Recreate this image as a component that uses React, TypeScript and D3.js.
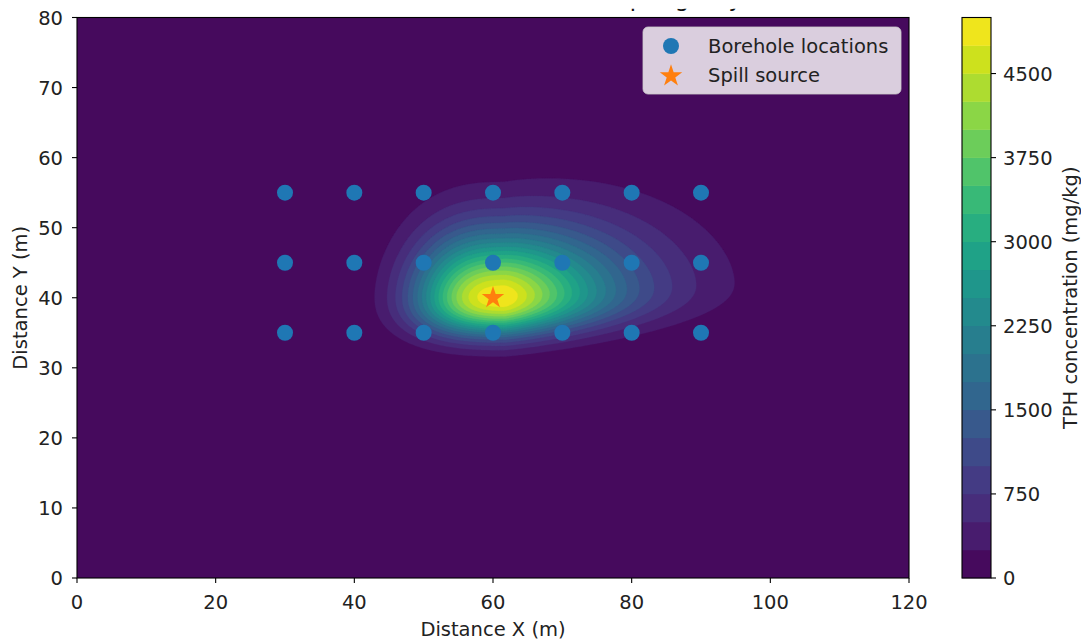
import React, { useMemo } from 'react';
import * as d3 from 'd3';

// ---- data ----
const boreholeX = [30, 40, 50, 60, 70, 80, 90];
const boreholeY = [35, 45, 55];
const spillSource = [60, 40];
const contourLevels = d3.range(0, 5001, 250); // 0..5000 step 250 (20 bands)
const colorbarTicks = [0, 750, 1500, 2250, 3000, 3750, 4500];
const xTicks = [0, 20, 40, 60, 80, 100, 120];
const yTicks = [0, 10, 20, 30, 40, 50, 60, 70, 80];
// plume shape parameters estimated from the contour picture
const peakConcentration = 4990;
const plumeCenter = [61.6, 40.2];
const plumeReachX = [12.25, 15.6]; // upgradient, downgradient (m)
const plumeShapeX = [2.6, 1.45];
const plumeReachY = [5.4, 8.7]; // below, above (m)
const plumeShapeY = [2.36, 1.74];
const plumeDrift = 0.06;
const plumeWidening = 0.01;

const W = 1081, H = 642;
const PL = 77, PR = 909, PT = 17.5, PB = 578;
const CBL = 962, CBR = 991;
const FONT = "'DejaVu Sans', sans-serif";
const FS = 19.5;

function field(x: number, y: number): number {
  const dx = x - plumeCenter[0];
  const down = Math.max(dx, 0);
  const dy = y - (plumeCenter[1] + plumeDrift * down);
  const gx = dx < 0
    ? Math.pow(-dx / plumeReachX[0], plumeShapeX[0])
    : Math.pow(dx / plumeReachX[1], plumeShapeX[1]);
  const gy = dy < 0
    ? Math.pow(-dy / plumeReachY[0], plumeShapeY[0])
    : Math.pow(dy / (plumeReachY[1] * (1 + plumeWidening * down)), plumeShapeY[1]);
  return peakConcentration * Math.exp(-(gx + gy));
}

function starPath(cx: number, cy: number, R: number): string {
  const r = R * 0.381966;
  const pts: string[] = [];
  for (let i = 0; i < 10; i++) {
    const a = -Math.PI / 2 + (i * Math.PI) / 5;
    const rr = i % 2 === 0 ? R : r;
    pts.push(`${cx + rr * Math.cos(a)},${cy + rr * Math.sin(a)}`);
  }
  return 'M' + pts.join('L') + 'Z';
}

export default function App() {
  const xScale = d3.scaleLinear().domain([0, 120]).range([PL, PR]);
  const yScale = d3.scaleLinear().domain([0, 80]).range([PB, PT]);
  const cbScale = d3.scaleLinear().domain([0, 5000]).range([PB, PT]);
  const nBands = contourLevels.length - 1;
  const bandColor = (k: number) => d3.interpolateViridis((k + 0.5) / nBands);

  const paths = useMemo(() => {
    const step = 0.25;
    const nx = Math.round(120 / step), ny = Math.round(80 / step);
    const values = new Float64Array(nx * ny);
    for (let j = 0; j < ny; j++) {
      const y = (j + 0.5) * step;
      for (let i = 0; i < nx; i++) {
        values[j * nx + i] = field((i + 0.5) * step, y);
      }
    }
    const thresholds = contourLevels.slice(1, -1);
    const contours = d3.contours().size([nx, ny]).thresholds(thresholds)(values as any);
    const proj = d3.geoTransform({
      point(px: number, py: number) {
        (this as any).stream.point(xScale(px * step), yScale(py * step));
      },
    });
    const gp = d3.geoPath(proj as any);
    return contours.map((c, k) => ({ d: gp(c as any) || '', color: bandColor(k + 1) }));
  }, []);

  const cbBands = d3.range(nBands);

  return (
    <svg width={W} height={H} style={{ position: 'absolute', left: 0, top: 0, background: '#fff' }}
      fontFamily={FONT}>
      <defs>
        <clipPath id="plotclip"><rect x={PL} y={PT} width={PR - PL} height={PB - PT} /></clipPath>
        <clipPath id="titleclip"><rect x={0} y={8.8} width={W} height={4} /></clipPath>
      </defs>
      <text x={(PL + PR) / 2} y={6} textAnchor="middle" fontSize={23} fill="#111" clipPath="url(#titleclip)">
        TPH Contamination Modelled at Spring Day
      </text>
      <g clipPath="url(#plotclip)">
        <rect x={PL} y={PT} width={PR - PL} height={PB - PT} fill={bandColor(0)} />
        {paths.map((p, k) => (
          <path key={k} d={p.d} fill={p.color} stroke={p.color} strokeWidth={0.3} />
        ))}
        {boreholeY.map((by) => boreholeX.map((bx) => (
          <circle key={`${bx}-${by}`} cx={xScale(bx)} cy={yScale(by)} r={8} fill="#1f77b4" />
        )))}
        <path d={starPath(xScale(spillSource[0]), yScale(spillSource[1]), 11.8)} fill="#ff7f0e" />
      </g>
      <rect x={PL} y={PT} width={PR - PL} height={PB - PT} fill="none" stroke="#000" strokeWidth={1.1} />
      {xTicks.map((t) => (
        <g key={t}>
          <line x1={xScale(t)} x2={xScale(t)} y1={PB} y2={PB + 5} stroke="#000" strokeWidth={1.1} />
          <text x={xScale(t)} y={609} textAnchor="middle" fontSize={FS} fill="#222">{t}</text>
        </g>
      ))}
      {yTicks.map((t) => (
        <g key={t}>
          <line x1={PL - 5} x2={PL} y1={yScale(t)} y2={yScale(t)} stroke="#000" strokeWidth={1.1} />
          <text x={63} y={yScale(t)} dy="0.36em" textAnchor="end" fontSize={FS} fill="#222">{t}</text>
        </g>
      ))}
      <text x={(PL + PR) / 2} y={636} textAnchor="middle" fontSize={FS} fill="#222">Distance X (m)</text>
      <text transform={`translate(27,${(PT + PB) / 2}) rotate(-90)`} textAnchor="middle" fontSize={FS} fill="#222">Distance Y (m)</text>

      {/* legend */}
      <rect x={643} y={27} width={258} height={67} rx={5} fill="#fff" fillOpacity={0.8} stroke="#ccc" strokeOpacity={0.8} />
      <circle cx={671} cy={46} r={8} fill="#1f77b4" />
      <text x={708} y={53} fontSize={FS} fill="#222">Borehole locations</text>
      <path d={starPath(671, 76, 11.8)} fill="#ff7f0e" />
      <text x={708} y={82} fontSize={FS} fill="#222">Spill source</text>

      {/* colorbar */}
      {cbBands.map((k) => (
        <rect key={k} x={CBL} width={CBR - CBL} y={cbScale(contourLevels[k + 1])}
          height={cbScale(contourLevels[k]) - cbScale(contourLevels[k + 1]) + 0.3} fill={bandColor(k)} />
      ))}
      <rect x={CBL} y={PT} width={CBR - CBL} height={PB - PT} fill="none" stroke="#000" strokeWidth={1.1} />
      {colorbarTicks.map((t) => (
        <g key={t}>
          <line x1={CBR} x2={CBR + 5} y1={cbScale(t)} y2={cbScale(t)} stroke="#000" strokeWidth={1.1} />
          <text x={1003} y={cbScale(t)} dy="0.36em" fontSize={FS} fill="#222">{t}</text>
        </g>
      ))}
      <text transform={`translate(1077,${(PT + PB) / 2}) rotate(-90)`} textAnchor="middle" fontSize={FS} fill="#222">TPH concentration (mg/kg)</text>
    </svg>
  );
}
